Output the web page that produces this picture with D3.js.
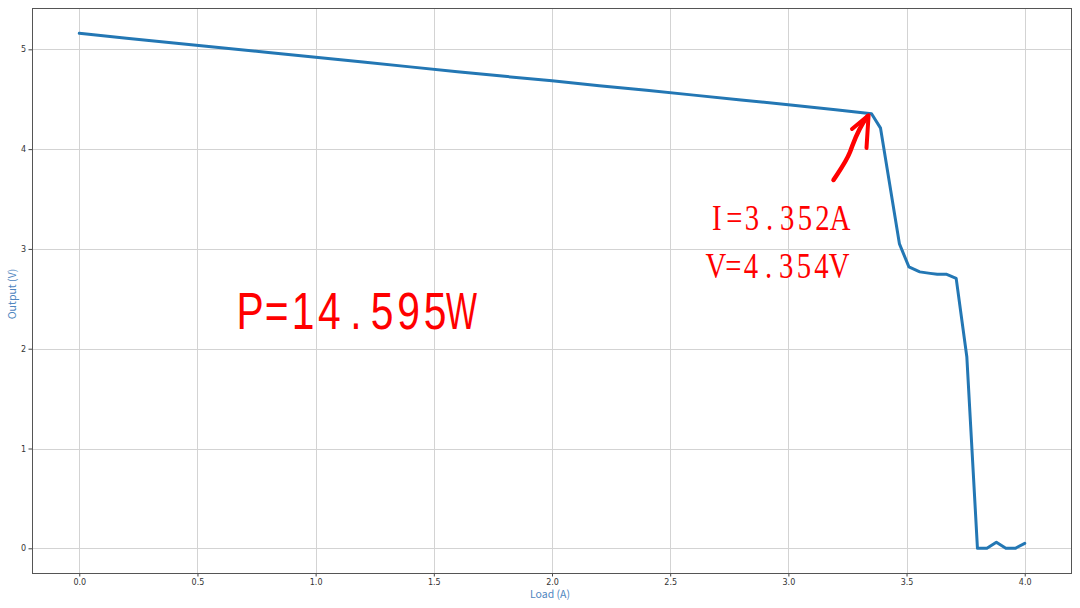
<!DOCTYPE html>
<html>
<head>
<meta charset="utf-8">
<script src="https://cdn.jsdelivr.net/npm/d3@7"></script>
<style>
  html, body { margin: 0; padding: 0; background: #fff; }
  svg { display: block; }
</style>
</head>
<body>
<svg id="chart" width="1080" height="608"></svg>
<script>
// Load current (A) and output voltage (V)
const loadA = [0.0, 0.2, 0.4, 0.6, 0.8, 1.0, 1.2, 1.4, 1.6, 1.8, 2.0, 2.2, 2.4, 2.6, 2.8, 3.0, 3.2,
  3.352, 3.39, 3.47, 3.51, 3.556, 3.60, 3.63, 3.67, 3.71, 3.755, 3.80, 3.84, 3.88, 3.92, 3.96, 4.0];
const outputV = [5.16, 5.112, 5.064, 5.016, 4.968, 4.92, 4.872, 4.824, 4.776, 4.729, 4.684, 4.636, 4.589, 4.541, 4.493, 4.445, 4.395,
  4.354, 4.21, 3.05, 2.82, 2.77, 2.755, 2.745, 2.745, 2.705, 1.92, 0.0, 0.0, 0.06, 0.0, 0.0, 0.05];
const xTicks = [0.0, 0.5, 1.0, 1.5, 2.0, 2.5, 3.0, 3.5, 4.0];
const yTicks = [0, 1, 2, 3, 4, 5];
const xLabel = "Load (A)";
const yLabel = "Output (V)";
const powerText = "P=14.595W";
const peakTexts = ["I=3.352A", "V=4.354V"];
const peakPoint = { i: 3.352, v: 4.354 };

const svg = d3.select("#chart");
const L = 32, R = 1072, T = 8, B = 573;
const x = d3.scaleLinear().domain([-0.2, 4.2]).range([L, R]);
const y = d3.scaleLinear().domain([-0.2475, 5.414]).range([B, T]);

// grid
const grid = svg.append("g");
grid.selectAll("line.gx").data(xTicks).join("line")
  .attr("x1", d => Math.round(x(d)) + 0.5).attr("x2", d => Math.round(x(d)) + 0.5)
  .attr("y1", T).attr("y2", B)
  .attr("stroke", "#d3d3d3").attr("stroke-width", 1);
grid.selectAll("line.gy").data(yTicks).join("line")
  .attr("y1", d => Math.round(y(d)) + 0.5).attr("y2", d => Math.round(y(d)) + 0.5)
  .attr("x1", L).attr("x2", R)
  .attr("stroke", "#d3d3d3").attr("stroke-width", 1);

// axes
const xAxis = svg.append("g").attr("transform", `translate(0,${B})`)
  .call(d3.axisBottom(x).tickValues(xTicks).tickFormat(d3.format(".1f")).tickSize(3.5).tickSizeOuter(0));
const yAxis = svg.append("g").attr("transform", `translate(${L},0)`)
  .call(d3.axisLeft(y).tickValues(yTicks).tickFormat(d3.format("d")).tickSize(3.5).tickSizeOuter(0));
[xAxis, yAxis].forEach(a => {
  a.select(".domain").remove();
  a.selectAll(".tick line").attr("stroke", "#444");
  a.selectAll(".tick text").attr("fill", "#333")
    .style("font-family", "'DejaVu Sans', sans-serif").style("font-size", "8px");
});
xAxis.selectAll(".tick text").attr("dy", "0.71em").attr("y", 6.5);
yAxis.selectAll(".tick text").attr("x", -6);

// frame
svg.append("rect").attr("x", L + 0.5).attr("y", T + 0.5)
  .attr("width", R - L - 1).attr("height", B - T)
  .attr("fill", "none").attr("stroke", "#555").attr("stroke-width", 1);

// axis labels
svg.append("text").attr("x", (L + R) / 2 - 2).attr("y", 597.5)
  .attr("text-anchor", "middle").attr("fill", "#4f86c0")
  .style("font-family", "'Noto Sans CJK SC', 'DejaVu Sans', sans-serif").style("font-size", "10.5px")
  .text(xLabel);
svg.append("text").attr("transform", `translate(16,294) rotate(-90)`)
  .attr("text-anchor", "middle").attr("fill", "#4f86c0")
  .style("font-family", "'Noto Sans CJK SC', 'DejaVu Sans', sans-serif").style("font-size", "10.5px")
  .text(yLabel);

// data line
const line = d3.line().x(d => x(d[0])).y(d => y(d[1]));
svg.append("path").datum(d3.zip(loadA, outputV))
  .attr("d", line).attr("fill", "none")
  .attr("stroke", "#2377b4").attr("stroke-width", 3)
  .attr("stroke-linejoin", "round").attr("stroke-linecap", "round");

// monospaced-cell text (mimics CJK fixed-width ASCII), each glyph narrowed to fit
function cellText(str, x0, cell, baseline, sx, maxW, attrs) {
  const g = svg.append("g").attr("fill", "#ff0000");
  Array.from(str).forEach((c, i) => {
    const t = g.append("text").attr("text-anchor", "middle").text(c);
    Object.entries(attrs).forEach(([k, v]) => t.style(k, v));
    const w = t.node().getComputedTextLength();
    const s = Math.min(sx, maxW / w);
    t.attr("transform", `translate(${(x0 + cell * (i + 0.5)).toFixed(1)},${baseline}) scale(${s.toFixed(3)},1)`);
  });
  return g;
}

cellText(powerText, 237, 26.4, 328.5, 0.8, 31, {
  "font-family": "'Liberation Sans', 'Noto Sans', sans-serif", "font-size": "51px"
});
cellText(peakTexts[0], 708, 17.6, 229.5, 0.82, 21, {
  "font-family": "'Liberation Serif', 'DejaVu Serif', serif", "font-size": "35px"
});
cellText(peakTexts[1], 707, 17.6, 277.5, 0.82, 21, {
  "font-family": "'Liberation Serif', 'DejaVu Serif', serif", "font-size": "35px"
});

// hand-drawn arrow pointing at the peak
const tip = [x(peakPoint.i) - 3, y(peakPoint.v) + 1.5];
const arrow = svg.append("g").attr("fill", "none").attr("stroke", "#ff0000")
  .attr("stroke-linecap", "round").attr("stroke-linejoin", "round");
arrow.append("path")
  .attr("d", `M833.5,180 C840,170 846,162 850,152 C854,142 857,130 ${tip[0] - 1},${tip[1] + 1}`)
  .attr("stroke-width", 4.5);
arrow.append("path")
  .attr("d", `M852,129 L${tip[0]},${tip[1]} L866.5,148`)
  .attr("stroke-width", 4);
</script>
</body>
</html>
